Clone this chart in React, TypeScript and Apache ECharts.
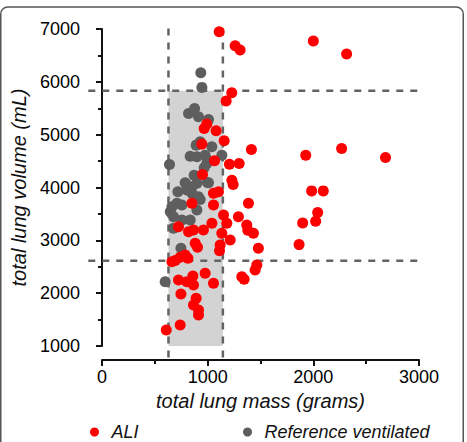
import React, { useEffect, useRef } from "react";
import * as echarts from "echarts";

// ---- data ----
const X_RANGE = [0, 3000];
const Y_RANGE = [1000, 7000];
const TICK_STEP = 1000;

const ALI_MASS = [
  1109, 1260, 1307, 2000, 2315, 1228, 1175, 967, 992, 1080, 1156, 945, 1414, 1928, 2268, 2683,
  1065, 1206, 1298, 951, 1229, 1241, 1055, 1102, 851, 1055, 1386, 1984, 2094, 2041, 2022, 1899,
  1150, 1181, 1291, 1370, 1380, 1433, 1480, 1134, 1118, 1213, 1112, 1865, 724, 819, 866, 960,
  1040, 882, 904, 662, 740, 787, 813, 693, 1465, 1449, 1323, 1345, 976, 1055, 860, 724, 803,
  866, 747, 891, 866, 913, 913, 740, 608,
];
const ALI_VOLUME = [
  6949, 6684, 6602, 6773, 6526, 5793, 5636, 5118, 5200, 5073, 4884, 4821, 4720, 4612, 4739, 4568,
  4505, 4442, 4454, 4246, 4138, 4056, 3890, 3920, 3700, 3669, 3700, 3936, 3936, 3526, 3361, 3330,
  3479, 3322, 3447, 3290, 3191, 3133, 2849, 3133, 2911, 3006, 2804, 2919, 3258, 3163, 3195, 3195,
  3322, 2944, 2868, 2595, 2679, 2722, 2660, 2620, 2533, 2438, 2311, 2262, 2376, 2186, 2325, 2249, 2217,
  2154, 1984, 1903, 1776, 1681, 1586, 1397, 1303,
];

const REF_MASS = [
  935, 945, 876, 819, 913, 1008, 929, 891, 1039, 639, 835, 898, 976, 1134, 1002, 992, 967, 872,
  998, 787, 898, 1008, 803, 851, 913, 718, 929, 709, 756, 662, 646, 898, 677, 756, 835, 677, 747,
  598, 850,
];
const REF_VOLUME = [
  6172, 5895, 5497, 5402, 5339, 5288, 4865, 4802, 4770, 4435, 4593, 4581, 4612, 4612, 4517, 4454,
  4372, 4233, 4094, 4088, 4079, 4091, 3953, 3890, 3826, 3920, 3772, 3700, 3669, 3637, 3542, 3574,
  3447, 3385, 3385, 3227, 2849, 2217, 4012,
];

// reference band: mass limits and volume limits
const MASS_LIMITS = [629, 1144];
const VOLUME_LIMITS = [2614, 5832];
// extents of the dashed guide lines (data units)
const V_LINE_VOLUME_EXTENT = [780, 7020];
const H_LINE_MASS_EXTENT = [-130, 3000];

const FONT = "'Liberation Sans', Arial, Helvetica, sans-serif";
const RED = "#ff0000";
const GREY = "#5e5e5e";

export default function App() {
  const ref = useRef<HTMLDivElement>(null);

  useEffect(() => {
    const chart = echarts.init(ref.current!, null, { renderer: "svg" });
    const axisCommon = {
      type: "value",
      interval: TICK_STEP,
      offset: 14,
      axisLine: { show: true, lineStyle: { color: "#111", width: 2 } },
      axisTick: { show: true, length: 6, lineStyle: { color: "#111", width: 2 } },
      minorTick: { show: true, splitNumber: 2, length: 4, lineStyle: { color: "#111", width: 2 } },
      splitLine: { show: false },
      axisLabel: {
        color: "#000",
        fontSize: 18,
        fontFamily: FONT,
        formatter: (v: number) => String(v),
      },
      nameLocation: "middle",
      nameTextStyle: { fontStyle: "italic", fontSize: 20, color: "#111", fontFamily: FONT },
    };
    const legendText = { fontStyle: "italic", fontSize: 18, color: "#111", fontFamily: FONT };
    chart.setOption({
      animation: false,
      grid: { left: 102, right: 48, top: 29, bottom: 96 },
      xAxis: {
        ...axisCommon,
        min: X_RANGE[0],
        max: X_RANGE[1],
        axisLabel: { ...axisCommon.axisLabel, margin: 8 },
        name: "total lung mass (grams)",
        nameGap: 27,
      },
      yAxis: {
        ...axisCommon,
        min: Y_RANGE[0],
        max: Y_RANGE[1],
        axisLabel: { ...axisCommon.axisLabel, margin: 8 },
        name: "total lung volume (mL)",
        nameGap: 51,
      },
      legend: [
        {
          data: ["ALI"],
          left: 90,
          top: 423,
          padding: 0,
          icon: "circle",
          itemWidth: 24,
          itemHeight: 9,
          textStyle: legendText,
        },
        {
          data: ["Reference ventilated"],
          left: 243,
          top: 423,
          padding: 0,
          icon: "circle",
          itemWidth: 24,
          itemHeight: 9,
          textStyle: legendText,
        },
      ],
      series: [
        {
          name: "Reference ventilated",
          type: "scatter",
          symbolSize: 11,
          itemStyle: { color: GREY, opacity: 1 },
          data: REF_MASS.map((m, i) => [m, REF_VOLUME[i]]),
          markArea: {
            silent: true,
            itemStyle: { color: "#d3d3d3" },
            label: { show: false },
            data: [
              [
                { xAxis: MASS_LIMITS[0], yAxis: Y_RANGE[0] },
                { xAxis: MASS_LIMITS[1], yAxis: VOLUME_LIMITS[1] },
              ],
            ],
          },
        },
        {
          name: "ALI",
          type: "scatter",
          symbolSize: 11,
          itemStyle: { color: RED, opacity: 1 },
          data: ALI_MASS.map((m, i) => [m, ALI_VOLUME[i]]),
        },
      ],
    });

    const px = (x: number, y: number) =>
      chart.convertToPixel({ xAxisIndex: 0, yAxisIndex: 0 }, [x, y]) as number[];
    const dash = { stroke: "#636363", lineWidth: 2.5, lineDash: [7, 7] };
    const lines: any[] = [];
    MASS_LIMITS.forEach((m) => {
      const a = px(m, V_LINE_VOLUME_EXTENT[0]);
      const b = px(m, V_LINE_VOLUME_EXTENT[1]);
      lines.push({ type: "line", silent: true, z: 1, shape: { x1: a[0], y1: a[1], x2: b[0], y2: b[1] }, style: dash });
    });
    VOLUME_LIMITS.forEach((v) => {
      const a = px(H_LINE_MASS_EXTENT[0], v);
      const b = px(H_LINE_MASS_EXTENT[1], v);
      lines.push({ type: "line", silent: true, z: 1, shape: { x1: a[0], y1: a[1], x2: b[0], y2: b[1] }, style: dash });
    });
    lines.push({
      type: "rect",
      silent: true,
      z: 0,
      shape: { x: 0.75, y: 7, width: 462.5, height: 460, r: 7 },
      style: { fill: "none", stroke: "#555", lineWidth: 1.5 },
    });
    chart.setOption({ graphic: lines });

    return () => chart.dispose();
  }, []);

  return (
    <div
      ref={ref}
      style={{ position: "fixed", left: 0, top: 0, width: 467, height: 442, background: "#fff" }}
    />
  );
}
